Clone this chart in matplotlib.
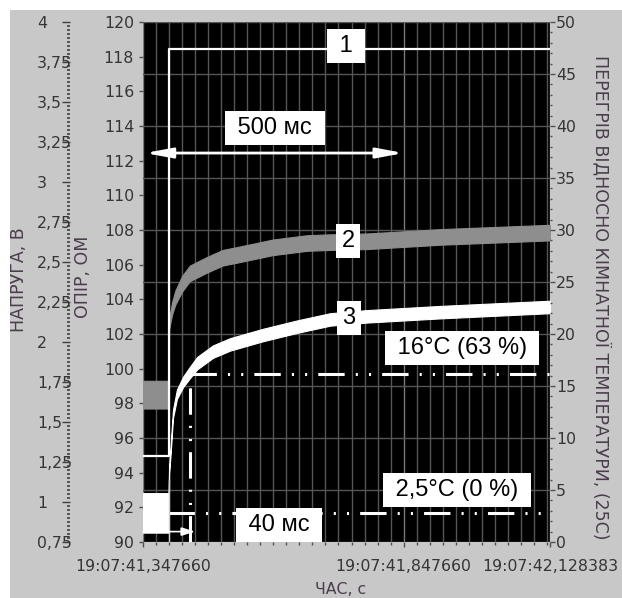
import matplotlib
matplotlib.use('Agg')
import matplotlib.pyplot as plt
from matplotlib.ticker import MultipleLocator, FixedLocator, FuncFormatter
from matplotlib.patches import Rectangle

plt.rcParams['lines.scale_dashes'] = False

# ---------------- data ----------------
time_ticks = [0.0, 0.5, 0.780723]
time_labels = ['19:07:41,347660', '19:07:41,847660', '19:07:42,128383']

# curve 1: voltage, V
volt_t = [0.0, 0.05, 0.05, 0.780723]
volt_v = [1.29, 1.29, 3.83, 3.83]

# curve 2: resistance, Ohm (noisy band: lower / upper edge)
res_t = [0.0, 0.049, 0.0501, 0.056, 0.062, 0.075, 0.09, 0.123, 0.153, 0.186,
         0.249, 0.315, 0.359, 0.43, 0.57, 0.780723]
res_lo = [97.7, 97.7, 102.3, 103.15, 103.7, 104.45, 105.05, 105.55, 105.95, 106.15,
          106.55, 106.8, 106.85, 106.9, 107.15, 107.4]
res_hi = [99.3, 99.3, 102.9, 103.85, 104.5, 105.35, 105.95, 106.45, 106.85, 107.05,
          107.45, 107.7, 107.75, 107.8, 108.05, 108.3]

# curve 3: overheat, deg C (noisy band: lower / upper edge)
temp_t = [0.0, 0.049, 0.0502, 0.0525, 0.0575, 0.065, 0.077, 0.09, 0.104, 0.134,
          0.167, 0.23, 0.295, 0.359, 0.43, 0.57, 0.780723]
temp_lo = [0.9, 0.9, 6.7, 8.1, 11.9, 13.75, 14.9, 15.75, 16.6, 17.7,
           18.4, 19.3, 20.1, 20.8, 21.1, 21.5, 22.0]
temp_hi = [4.7, 4.7, 7.3, 8.9, 12.7, 14.65, 15.9, 16.85, 17.8, 18.9,
           19.6, 20.5, 21.3, 22.0, 22.3, 22.7, 23.2]

# reference levels / markers
level_63 = 16.2       # deg C
level_0 = 2.75        # deg C
t_step = 0.05
t_63 = 0.09
arrow500_level = 37.4
arrow40_level = 1.0

# ---------------- figure ----------------
W, H = 622, 598
PT = 0.72  # points per pixel at dpi 100
fig = plt.figure(figsize=(W / 100, H / 100), dpi=100)
fig.patch.set_facecolor('white')
fig.add_artist(Rectangle((10 / W, 0), 1, 1 - 10 / H, transform=fig.transFigure,
                         facecolor='#c8c8c8', edgecolor='none', zorder=-10))

L, R, T, B = 143, 550, 22, 542
ax = fig.add_axes([L / W, 1 - B / H, (R - L) / W, (B - T) / H])
ax.set_facecolor('black')
ax_t = ax.twinx()
ax_v = ax.twinx()

TICK_C = '#353535'
LAB_C = '#4a3c4c'
FS = 11.3
FS_LAB = 12.5

for a in (ax, ax_t, ax_v):
    for s in a.spines.values():
        s.set_visible(False)

# x axis
ax.set_xlim(0, 0.780723)
ax.xaxis.set_major_locator(FixedLocator(time_ticks))
ax.set_xticklabels(time_labels)
ax.xaxis.set_minor_locator(MultipleLocator(0.025))
ax.tick_params(axis='x', which='major', length=5 * PT, width=1, color='#505050',
               labelsize=FS, labelcolor=TICK_C, pad=12 * PT)
ax.tick_params(axis='x', which='minor', length=3 * PT, width=1, color='#505050')
ax.grid(which='minor', axis='x', color='#555555', lw=1)
ax.grid(which='major', axis='x', color='#7a7a7a', lw=1)

# ohm axis
ax.set_ylim(90, 120)
ax.yaxis.set_major_locator(MultipleLocator(2))
ax.yaxis.set_minor_locator(MultipleLocator(3))
ax.yaxis.remove_overlapping_locs = False
ax.tick_params(axis='y', which='major', length=4 * PT, width=1, color='#505050',
               labelsize=FS, labelcolor=TICK_C, pad=5 * PT)
ax.tick_params(axis='y', which='minor', length=0)
ax.grid(which='minor', axis='y', color='#555555', lw=1)
ax.grid(which='major', axis='y', visible=False)
ax.set_axisbelow(True)

# temperature axis (right)
ax_t.set_ylim(0, 50)
ax_t.yaxis.set_major_locator(MultipleLocator(5))
ax_t.yaxis.set_minor_locator(MultipleLocator(1))
ax_t.tick_params(axis='y', which='major', length=5 * PT, width=1, color='#505050',
                 labelsize=FS, labelcolor=TICK_C, pad=1 * PT)
ax_t.tick_params(axis='y', which='minor', length=2.5 * PT, width=1, color='#505050')

# voltage axis (far left)
comma = FuncFormatter(lambda v, p: ('%g' % v).replace('.', ','))
ax_v.set_ylim(0.75, 4)
ax_v.yaxis.tick_left()
ax_v.spines['left'].set_position(('outward', (L - 70) * PT))
ax_v.yaxis.set_major_locator(MultipleLocator(0.25))
ax_v.yaxis.set_major_formatter(comma)
ax_v.yaxis.set_minor_locator(MultipleLocator(0.025))
ax_v.tick_params(axis='y', which='major', length=8 * PT, width=1, color='#404040',
                 labelsize=FS, labelcolor=TICK_C, pad=25 * PT)
ax_v.tick_params(axis='y', which='minor', length=3 * PT, width=1.2, color='#404040')
for lbl in ax_v.get_yticklabels():
    lbl.set_horizontalalignment('left')

# ---------------- curves ----------------
ax.fill_between(res_t, res_lo, res_hi, color='#8e8e8e', lw=0.8, edgecolor='#8e8e8e')
ax_t.fill_between(temp_t, temp_lo, temp_hi, color='white', lw=0.8, edgecolor='white')
ax_v.plot(volt_t, volt_v, color='white', lw=1.6)

# reference lines
dd = (0, (19, 8, 1.5, 8, 1.5, 8))
ax_t.plot([t_63, 0.780723], [level_63, level_63], color='white', lw=2.2, ls=dd)
ax_t.plot([t_63, t_63], [0, level_63], color='white', lw=2.2, ls=dd)
ax_t.plot([0.048, 0.780723], [level_0, level_0], color='white', lw=2.2, ls=dd)
ax_t.plot([t_step, t_step], [0, 6], color='#cfcfcf', lw=1)

ax_t.annotate('', xy=(0.5, arrow500_level), xytext=(0.004, arrow500_level),
              arrowprops=dict(arrowstyle='<|-|>,head_length=1.6,head_width=0.3',
                              color='white', lw=2, shrinkA=0, shrinkB=0,
                              mutation_scale=10))
ax_t.annotate('', xy=(0.1, arrow40_level), xytext=(0.0, arrow40_level),
              arrowprops=dict(arrowstyle='-|>,head_length=0.8,head_width=0.25',
                              color='white', lw=1.2, shrinkA=0, shrinkB=0,
                              mutation_scale=10))

# ---------------- label boxes ----------------
def box(px_x, px_y, s):
    ax_v.text((px_x - L) / (R - L), (B - px_y) / (B - T), s, transform=ax_v.transAxes,
              ha='center', va='center', fontsize=17, family='Liberation Sans',
              color='black', zorder=10,
              bbox=dict(boxstyle='square,pad=0.25', fc='white', ec='none'))

box(346, 46, ' 1 ')
box(348, 241, '2')
box(349, 318, '3')
box(275, 128, ' 500 мс ')
box(462, 348, ' 16°C (63 %) ')
box(457, 490, ' 2,5°C (0 %) ')
box(279, 525, ' 40 мс ')

# ---------------- axis titles ----------------
fig.text(19 / W, 1 - 280 / H, 'НАПРУГА, В', rotation=90, ha='center', va='center',
         fontsize=FS_LAB, color=LAB_C)
fig.text(83 / W, 1 - 277 / H, 'ОПІР, ОМ', rotation=90, ha='center', va='center',
         fontsize=FS_LAB, color=LAB_C)
fig.text(601 / W, 1 - 297 / H, 'ПЕРЕГРІВ ВІДНОСНО КІМНАТНОЇ ТЕМПЕРАТУРИ, (25С)',
         rotation=270, ha='center', va='center', fontsize=FS_LAB, color=LAB_C)
fig.text(341 / W, 1 - 597 / H, 'ЧАС, с', ha='center', va='bottom', fontsize=FS,
         color=LAB_C)

fig.savefig('out.png', dpi=100, facecolor=fig.get_facecolor())
